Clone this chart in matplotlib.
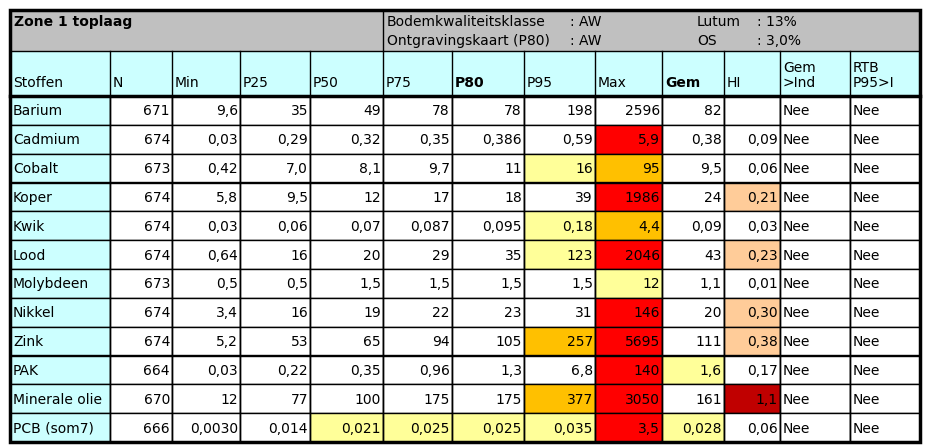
import matplotlib.pyplot as plt
from matplotlib.patches import Rectangle

headers = ["Stoffen", "N", "Min", "P25", "P50", "P75", "P80", "P95", "Max", "Gem", "HI", "Gem\n>Ind", "RTB\nP95>I"]
bold_headers = ["P80", "Gem"]
stoffen = ["Barium", "Cadmium", "Cobalt", "Koper", "Kwik", "Lood", "Molybdeen", "Nikkel", "Zink", "PAK", "Minerale olie", "PCB (som7)"]
N = ["671", "674", "673", "674", "674", "674", "673", "674", "674", "664", "670", "666"]
Min = ["9,6", "0,03", "0,42", "5,8", "0,03", "0,64", "0,5", "3,4", "5,2", "0,03", "12", "0,0030"]
P25 = ["35", "0,29", "7,0", "9,5", "0,06", "16", "0,5", "16", "53", "0,22", "77", "0,014"]
P50 = ["49", "0,32", "8,1", "12", "0,07", "20", "1,5", "19", "65", "0,35", "100", "0,021"]
P75 = ["78", "0,35", "9,7", "17", "0,087", "29", "1,5", "22", "94", "0,96", "175", "0,025"]
P80 = ["78", "0,386", "11", "18", "0,095", "35", "1,5", "23", "105", "1,3", "175", "0,025"]
P95 = ["198", "0,59", "16", "39", "0,18", "123", "1,5", "31", "257", "6,8", "377", "0,035"]
Max = ["2596", "5,9", "95", "1986", "4,4", "2046", "12", "146", "5695", "140", "3050", "3,5"]
Gem = ["82", "0,38", "9,5", "24", "0,09", "43", "1,1", "20", "111", "1,6", "161", "0,028"]
HI = ["", "0,09", "0,06", "0,21", "0,03", "0,23", "0,01", "0,30", "0,38", "0,17", "1,1", "0,06"]
GemInd = ["Nee"] * 12
RTB = ["Nee"] * 12
# class codes per cell: y=light yellow, o=orange, r=red, p=peach, d=dark red
classes = {
    (1, "Max"): "r", (2, "P95"): "y", (2, "Max"): "o", (3, "Max"): "r", (3, "HI"): "p",
    (4, "P95"): "y", (4, "Max"): "o", (5, "P95"): "y", (5, "Max"): "r", (5, "HI"): "p",
    (6, "Max"): "y", (7, "Max"): "r", (7, "HI"): "p", (8, "P95"): "o", (8, "Max"): "r", (8, "HI"): "p",
    (9, "Max"): "r", (9, "Gem"): "y", (10, "P95"): "o", (10, "Max"): "r", (10, "HI"): "d",
    (11, "P50"): "y", (11, "P75"): "y", (11, "P80"): "y", (11, "P95"): "y", (11, "Max"): "r", (11, "Gem"): "y",
}
palette = {"y": "#FFFF99", "o": "#FFC000", "r": "#FF0000", "p": "#FFCC99", "d": "#C00000"}

columns = [stoffen, N, Min, P25, P50, P75, P80, P95, Max, Gem, HI, GemInd, RTB]
colx = [10, 110, 172, 240, 310, 383, 452, 524, 595, 662, 724, 780, 850, 920]
top, title_bot, head_bot, bottom = 10, 51, 96, 442
rh = (bottom - head_bot) / len(stoffen)

fig = plt.figure(figsize=(9.27, 4.47), dpi=100)
ax = fig.add_axes([0, 0, 1, 1])
ax.set_xlim(0, 927); ax.set_ylim(447, 0); ax.axis("off")
fs = 10
font = "DejaVu Sans"

ax.add_patch(Rectangle((colx[0], top), colx[-1] - colx[0], title_bot - top, fc="#C0C0C0", ec="none"))
ax.add_patch(Rectangle((colx[0], title_bot), colx[-1] - colx[0], head_bot - title_bot, fc="#CCFFFF", ec="none"))
ax.plot([colx[5], colx[5]], [top, title_bot], color="black", lw=1)
ax.plot([colx[0], colx[-1]], [title_bot, title_bot], color="black", lw=1)
ax.text(14, 22, "Zone 1 toplaag", fontsize=fs, weight="bold", va="center", family=font)
for y, a, b, c, d in [(22, "Bodemkwaliteitsklasse", ": AW", "Lutum", ": 13%"), (41, "Ontgravingskaart (P80)", ": AW", "OS", ": 3,0%")]:
    ax.text(387, y, a, fontsize=fs, va="center", family=font)
    ax.text(570, y, b, fontsize=fs, va="center", family=font)
    ax.text(697, y, c, fontsize=fs, va="center", family=font)
    ax.text(757, y, d, fontsize=fs, va="center", family=font)

for j, h in enumerate(headers):
    ax.text(colx[j] + 3, 90, h, fontsize=fs, va="bottom", ha="left", family=font,
            weight="bold" if h in bold_headers else "normal", linespacing=1.1)
    ax.plot([colx[j], colx[j]], [title_bot, bottom], color="black", lw=1)

for i in range(len(stoffen)):
    y0 = head_bot + i * rh
    for j, col in enumerate(columns):
        name = headers[j]
        fc = "#CCFFFF" if j == 0 else palette.get(classes.get((i, name), ""), "white")
        ax.add_patch(Rectangle((colx[j], y0), colx[j + 1] - colx[j], rh, fc=fc, ec="black", lw=1))
        if j == 0 or j >= 11:
            ax.text(colx[j] + 3, y0 + rh / 2 + 1, col[i], fontsize=fs, va="center", ha="left", family=font)
        else:
            ax.text(colx[j + 1] - 2, y0 + rh / 2 + 1, col[i], fontsize=fs, va="center", ha="right", family=font)

ax.plot([colx[0], colx[-1]], [head_bot, head_bot], color="black", lw=2.5)
ax.add_patch(Rectangle((colx[0], top), colx[-1] - colx[0], bottom - top, fc="none", ec="black", lw=2.5))
fig.savefig("out.png", dpi=100)
